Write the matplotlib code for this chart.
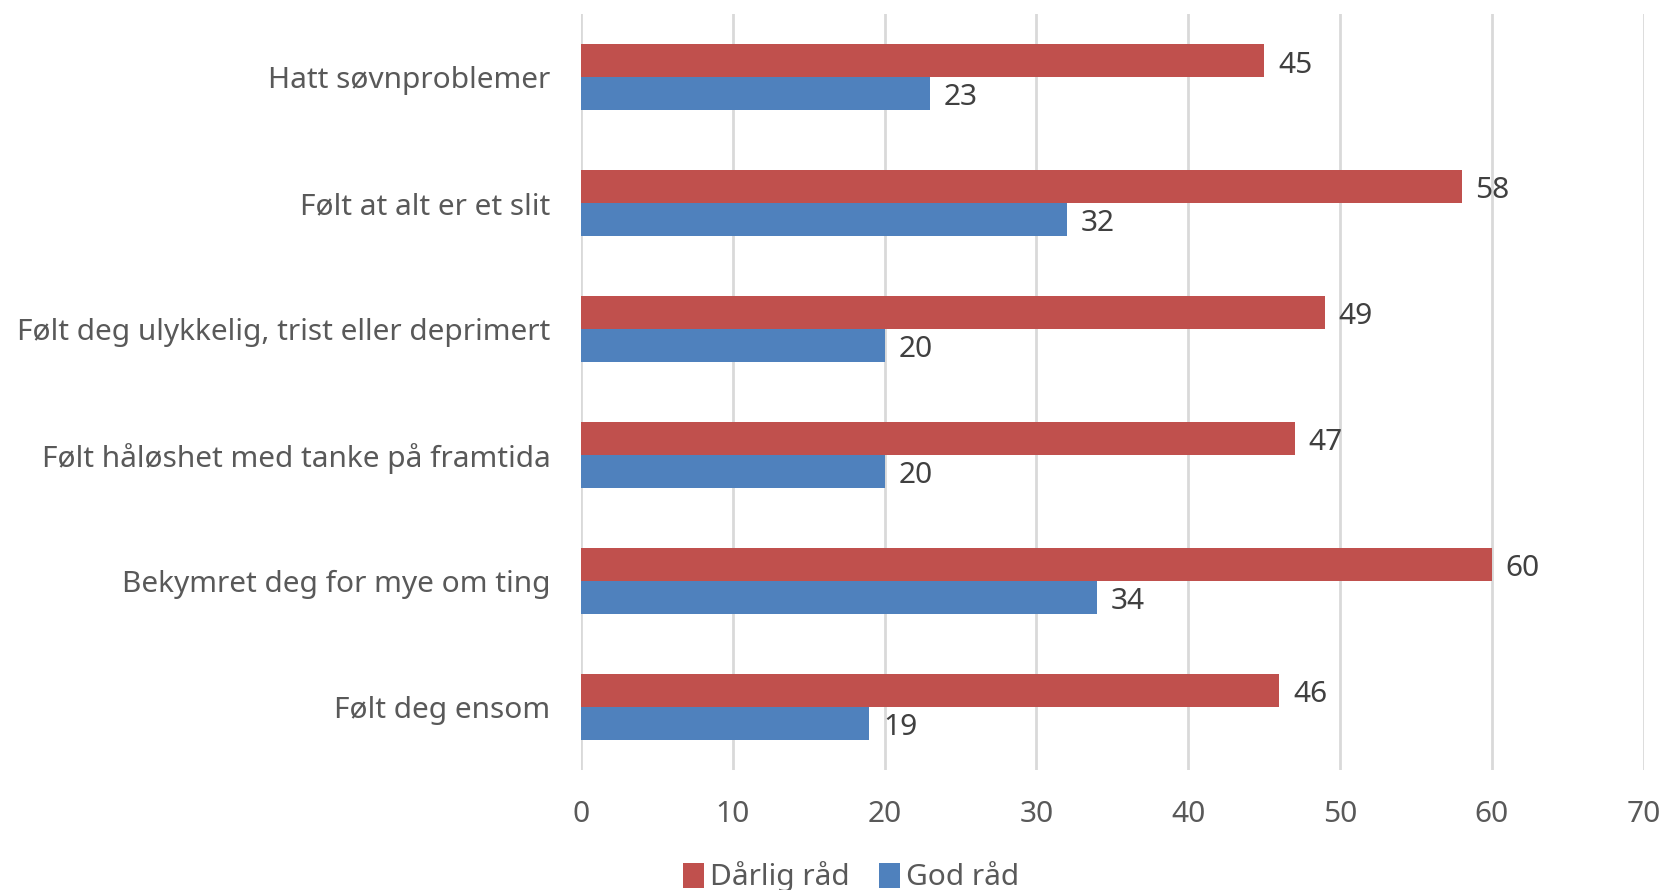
import numpy as np
import matplotlib.pyplot as plt

categories = ["Hatt søvnproblemer", "Følt at alt er et slit",
              "Følt deg ulykkelig, trist eller deprimert",
              "Følt håløshet med tanke på framtida",
              "Bekymret deg for mye om ting", "Følt deg ensom"]
darlig = [45, 58, 49, 47, 60, 46]
god = [23, 32, 20, 20, 34, 19]
series_names = ["Dårlig råd", "God råd"]
xticks = [0, 10, 20, 30, 40, 50, 60, 70]

red = "#C0504D"
blue = "#4F81BD"
txt = "#595959"

plt.rcParams['font.family'] = ['Noto Sans', 'DejaVu Sans']
fs = 21.5

fig = plt.figure(figsize=(16.62, 8.9), dpi=100)
ax = fig.add_axes([0.3496, 0.135, 0.6394, 0.849])

y = np.arange(len(categories))
h = 0.26
rb = ax.barh(y - h / 2, darlig, height=h, color=red, label=series_names[0], zorder=2)
bb = ax.barh(y + h / 2, god, height=h, color=blue, label=series_names[1], zorder=2)

# value labels just right of each bar
for bars, vals in ((rb, darlig), (bb, god)):
    for b, v in zip(bars, vals):
        ax.annotate(str(v), (b.get_width(), b.get_y() + b.get_height() / 2),
                    xytext=(10, -3), textcoords="offset points",
                    va="center", ha="left", fontsize=fs, color="#404040")

ax.set_xlim(0, 70)
ax.set_ylim(len(categories) - 0.5, -0.5)
ax.set_xticks(xticks)
ax.set_yticks(y)
ax.set_yticklabels(categories)
ax.grid(axis="x", color="#D9D9D9", linewidth=2, zorder=0)
ax.tick_params(axis="both", length=0, labelsize=fs, labelcolor=txt)
ax.tick_params(axis="x", pad=22)
ax.tick_params(axis="y", pad=22)
for s in ax.spines.values():
    s.set_visible(False)

fig.legend(loc="lower center", bbox_to_anchor=(0.512, -0.033), ncol=2, frameon=False,
           fontsize=fs, labelcolor=txt, handlelength=0.7, handleheight=0.9,
           handletextpad=0.2, columnspacing=1.0)

fig.savefig("out.png", dpi=100)
